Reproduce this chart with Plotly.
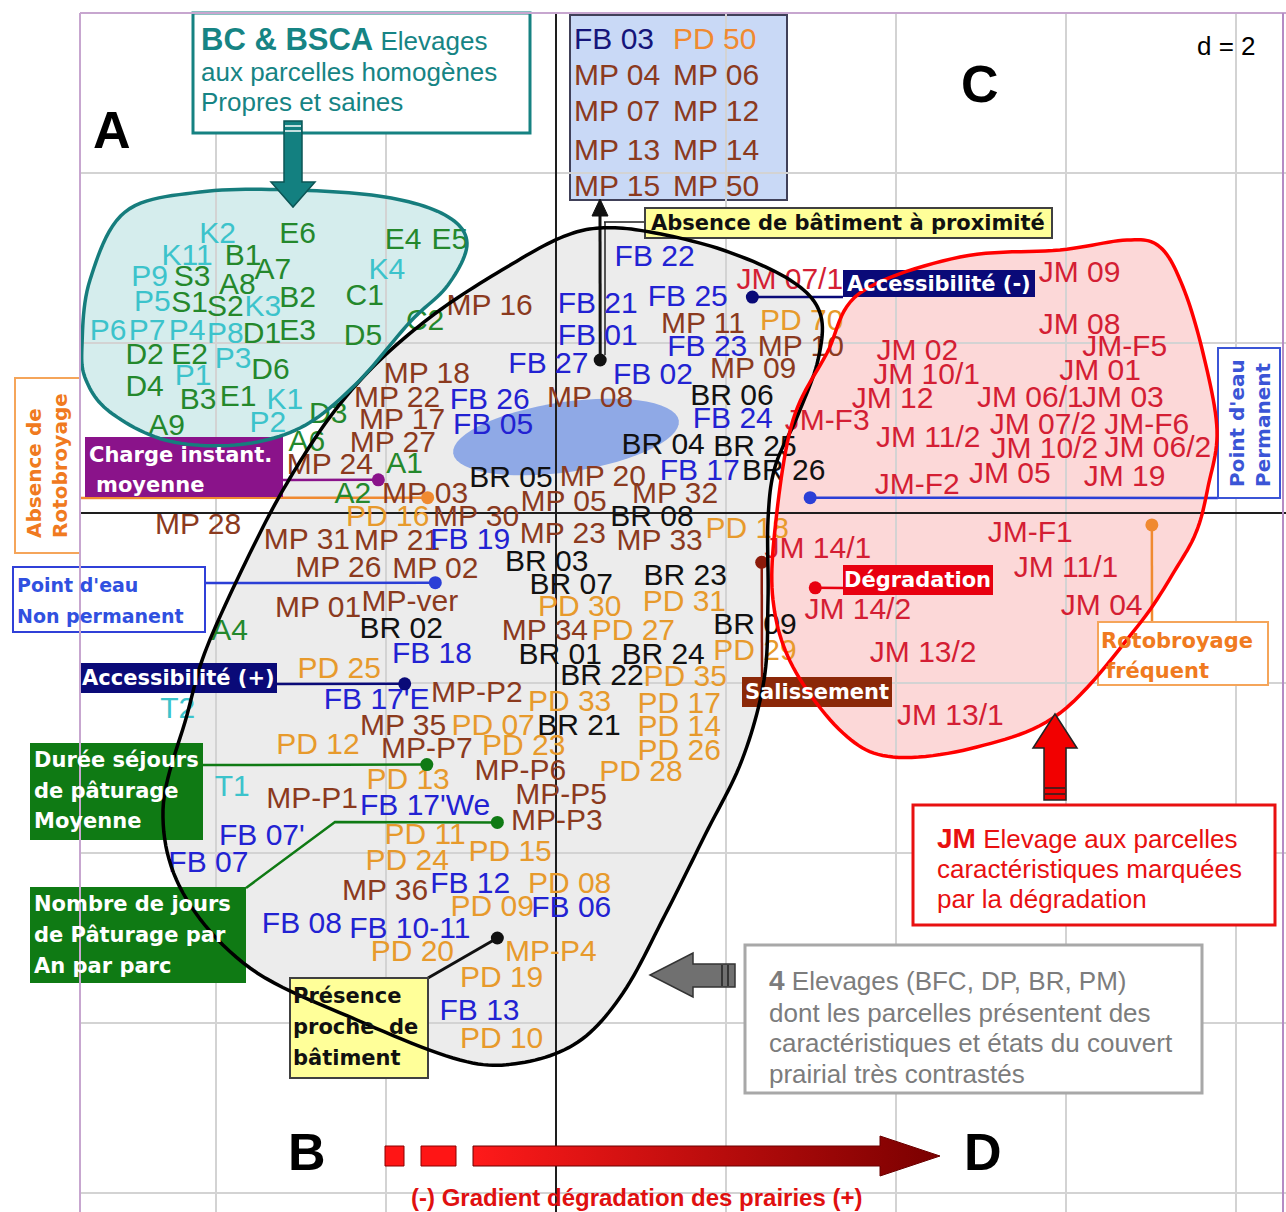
import math
import plotly.graph_objects as go

# ------------------------------------------------------------------ data
# positions on the factorial plane (axis 1 horizontal, axis 2 vertical), grid d = 2

bc_cyan_labels = ["K2", "K11", "P9", "P5", "K3", "K4", "P6", "P7", "P4", "P8",
                  "P3", "P1", "K1", "P2", "T2", "T1"]
bc_cyan_x = [-3.98, -4.34, -4.78, -4.75, -3.45, -1.99, -5.27, -4.81, -4.34, -3.89,
             -3.80, -4.27, -3.19, -3.39, -4.45, -3.81]
bc_cyan_y = [3.27, 3.01, 2.76, 2.47, 2.41, 2.84, 2.12, 2.12, 2.12, 2.09,
             1.80, 1.60, 1.31, 1.04, -2.32, -3.24]

bc_green_labels = ["E6", "E4", "E5", "B1", "A7", "S3", "A8", "B2", "C1", "S1",
                   "S2", "C2", "D1", "E3", "D5", "D2", "E2", "D6", "D4", "B3",
                   "E1", "A9", "D3", "A6", "A1", "A2", "A4"]
bc_green_x = [-3.04, -1.80, -1.25, -3.68, -3.33, -4.28, -3.75, -3.04, -2.25, -4.31,
              -3.89, -1.54, -3.46, -3.04, -2.27, -4.84, -4.31, -3.36, -4.84, -4.21,
              -3.74, -4.58, -2.68, -2.93, -1.78, -2.39, -3.84]
bc_green_y = [3.27, 3.19, 3.19, 3.01, 2.84, 2.76, 2.66, 2.51, 2.54, 2.45,
              2.41, 2.24, 2.09, 2.12, 2.06, 1.84, 1.84, 1.66, 1.47, 1.31,
              1.35, 1.01, 1.15, 0.82, 0.56, 0.21, -1.41]

mp_labels = ["MP 16", "MP 18", "MP 22", "MP 17", "MP 27", "MP 24", "MP 03", "MP 30",
             "MP 28", "MP 31", "MP 21", "MP 26", "MP 02", "MP 01", "MP-ver", "MP-P2",
             "MP 35", "MP-P7", "MP-P1", "MP 36", "MP 11", "MP 10", "MP 09", "MP 08",
             "MP 20", "MP 32", "MP 05", "MP 23", "MP 33", "MP 34", "MP-P6", "MP-P5",
             "MP-P3"]
mp_x = [-0.78, -1.52, -1.87, -1.81, -1.92, -2.66, -1.54, -0.94,
        -4.21, -2.93, -1.87, -2.56, -1.42, -2.80, -1.72, -0.93,
        -1.80, -1.52, -2.87, -2.01, 1.73, 2.88, 2.32, 0.40,
        0.55, 1.40, 0.09, 0.08, 1.22, -0.13, -0.42, 0.06,
        0.01]
mp_y = [2.42, 1.62, 1.34, 1.08, 0.81, 0.55, 0.21, -0.07,
        -0.16, -0.34, -0.35, -0.67, -0.68, -1.14, -1.07, -2.14,
        -2.52, -2.79, -3.38, -4.46, 2.21, 1.93, 1.68, 1.33,
        0.41, 0.21, 0.11, -0.26, -0.35, -1.40, -3.05, -3.34,
        -3.64]

fb_labels = ["FB 22", "FB 21", "FB 25", "FB 01", "FB 23", "FB 27", "FB 02", "FB 26",
             "FB 05", "FB 24", "FB 17", "FB 19", "FB 18", "FB 17'E", "FB 17'We", "FB 07'",
             "FB 07", "FB 12", "FB 06", "FB 08", "FB 10-11", "FB 13"]
fb_x = [1.16, 0.49, 1.55, 0.49, 1.78, -0.09, 1.14, -0.78,
        -0.74, 2.08, 1.69, -1.01, -1.46, -2.11, -1.54, -3.46,
        -4.09, -1.01, 0.18, -2.99, -1.72, -0.90]
fb_y = [3.00, 2.44, 2.52, 2.07, 1.94, 1.74, 1.61, 1.31,
        1.02, 1.09, 0.48, -0.33, -1.68, -2.22, -3.46, -3.82,
        -4.14, -4.38, -4.67, -4.85, -4.91, -5.88]

br_labels = ["BR 06", "BR 04", "BR 25", "BR 26", "BR 05", "BR 08", "BR 03", "BR 07",
             "BR 23", "BR 02", "BR 09", "BR 01", "BR 24", "BR 22", "BR 21"]
br_x = [2.07, 1.26, 2.34, 2.68, -0.53, 1.13, -0.11, 0.18,
        1.52, -1.82, 2.34, 0.05, 1.26, 0.54, 0.27]
br_y = [1.36, 0.78, 0.76, 0.48, 0.40, -0.06, -0.59, -0.87,
        -0.76, -1.38, -1.34, -1.69, -1.69, -1.94, -2.52]

pd_labels = ["PD 70", "PD 16", "PD 18", "PD 30", "PD 31", "PD 27", "PD 29", "PD 25",
             "PD 35", "PD 33", "PD 17", "PD 07", "PD 14", "PD 12", "PD 23", "PD 26",
             "PD 28", "PD 13", "PD 11", "PD 15", "PD 24", "PD 08", "PD 09", "PD 20",
             "MP-P4", "PD 19", "PD 10"]
pd_x = [2.89, -1.98, 2.25, 0.28, 1.51, 0.91, 2.34, -2.55,
        1.52, 0.16, 1.45, -0.74, 1.45, -2.80, -0.38, 1.45,
        1.00, -1.74, -1.54, -0.54, -1.75, 0.16, -0.75, -1.69,
        -0.06, -0.64, -0.64]
pd_y = [2.24, -0.06, -0.20, -1.12, -1.06, -1.41, -1.64, -1.85,
        -1.95, -2.24, -2.26, -2.52, -2.54, -2.75, -2.76, -2.82,
        -3.06, -3.16, -3.81, -4.00, -4.11, -4.38, -4.65, -5.18,
        -5.18, -5.49, -6.20]

jm_labels = ["JM 07/1", "JM 09", "JM 08", "JM-F5", "JM 02", "JM 10/1", "JM 01", "JM 12",
             "JM 06/1", "JM 03", "JM-F3", "JM 07/2", "JM-F6", "JM 11/2", "JM 10/2", "JM 06/2",
             "JM 05", "JM 19", "JM-F2", "JM-F1", "JM 14/1", "JM 11/1", "JM 04", "JM 14/2",
             "JM 13/2", "JM 13/1"]
jm_x = [2.75, 6.16, 6.16, 6.69, 4.25, 4.36, 6.40, 3.96,
        5.58, 6.67, 3.19, 5.73, 6.95, 4.38, 5.75, 7.08,
        5.34, 6.69, 4.25, 5.58, 3.08, 6.00, 6.42, 3.55,
        4.32, 4.64]
jm_y = [2.72, 2.81, 2.20, 1.94, 1.89, 1.61, 1.65, 1.32,
        1.33, 1.33, 1.07, 1.02, 1.02, 0.86, 0.73, 0.75,
        0.44, 0.41, 0.31, -0.25, -0.44, -0.66, -1.11, -1.16,
        -1.67, -2.40]

# parcels projected outside the frame, listed in the box at the top
top_box_rows = [["FB 03", "PD 50"], ["MP 04", "MP 06"], ["MP 07", "MP 12"],
                ["MP 13", "MP 14"], ["MP 15", "MP 50"]]

# supplementary variables (points linked to their labels)
var_names = ["Absence de bâtiment à proximité", "Accessibilité (-)", "Point d'eau Permanent",
             "Rotobroyage fréquent", "Dégradation", "Salissement", "Charge instant. moyenne",
             "Absence de Rotobroyage", "Point d'eau Non permanent", "Accessibilité (+)",
             "Durée séjours de pâturage Moyenne", "Nombre de jours de Pâturage par An par parc",
             "Présence proche de bâtiment"]
var_x = [0.52, 2.31, 2.99, 7.01, 3.05, 2.42, -2.09, -1.51, -1.42, -1.78, -1.52, -0.69, -0.69]
var_y = [1.80, 2.54, 0.18, -0.14, -0.88, -0.58, 0.39, 0.18, -0.82, -2.01, -2.96, -3.64, -5.00]

# ------------------------------------------------------------------ layout helpers
W, H = 1286, 1212
LEFT, TOP = 80, 13
OX, OY, UNIT = 556, 513, 85.0      # origin and size of one unit, in pixels

ARIAL = "Liberation Sans, Arial, sans-serif"
DEJAVU = "DejaVu Sans, Verdana, sans-serif"


def ux(p):
    return (p - OX) / UNIT


def uy(p):
    return (OY - p) / UNIT


def fx(p):
    return (p - LEFT) / (W - LEFT)


def fy(p):
    return (H - p) / (H - TOP)


def poly_path(pts):
    return "M " + " L ".join(f"{ux(x):.4f},{uy(y):.4f}" for x, y in pts) + " Z"


def smooth_path(pts, n=12):
    # closed catmull-rom curve through the hand-traced outline points
    out = []
    m = len(pts)
    for i in range(m):
        p0, p1, p2, p3 = pts[i - 1], pts[i], pts[(i + 1) % m], pts[(i + 2) % m]
        for k in range(n):
            t = k / n
            t2, t3 = t * t, t * t * t
            xy = []
            for d in (0, 1):
                xy.append(0.5 * (2 * p1[d] + (-p0[d] + p2[d]) * t
                                 + (2 * p0[d] - 5 * p1[d] + 4 * p2[d] - p3[d]) * t2
                                 + (-p0[d] + 3 * p1[d] - 3 * p2[d] + p3[d]) * t3))
            out.append(xy)
    return poly_path(out)


shapes = []
annotations = []


def box(x0, y0, x1, y1, fill, line=None, lw=0, layer="above"):
    shapes.append(dict(type="rect", xref="paper", yref="paper",
                       x0=fx(x0), x1=fx(x1), y0=fy(y1), y1=fy(y0),
                       fillcolor=fill, line=dict(color=line or fill, width=lw), layer=layer))


def note(x, y, text, size, color, family=ARIAL, xanchor="left", angle=0, align="left"):
    annotations.append(dict(xref="paper", yref="paper", x=fx(x), y=fy(y), text=text,
                            showarrow=False, xanchor=xanchor, yanchor="middle",
                            textangle=angle, align=align, borderpad=0,
                            font=dict(family=family, size=size, color=color)))


# ------------------------------------------------------------------ groups outlines
teal_outline = [(82, 345), (90, 280), (125, 212), (200, 192), (293, 190), (385, 197),
                (445, 215), (467, 243), (448, 285), (410, 322), (355, 385), (300, 428),
                (235, 445), (165, 440), (110, 412), (86, 380)]
black_outline = [(600, 228), (650, 232), (723, 250), (790, 280), (820, 313), (818, 360),
                 (797, 417), (775, 467), (768, 520), (768, 600), (764, 680), (742, 760),
                 (705, 835), (665, 915), (623, 993), (578, 1042), (520, 1063), (460, 1060),
                 (357, 1020), (250, 968), (183, 893), (163, 810), (187, 715), (207, 647),
                 (253, 547), (290, 478), (333, 413), (380, 360), (440, 310), (507, 267),
                 (560, 238)]
red_outline = [(860, 293), (960, 257), (1060, 250), (1127, 240), (1160, 247), (1183, 287),
               (1203, 353), (1217, 430), (1208, 487), (1197, 530), (1177, 567), (1137, 627),
               (1060, 713), (977, 747), (893, 757), (843, 733), (793, 667), (773, 600),
               (776, 520), (793, 420), (827, 353)]

for pts, fill in [(black_outline, "#ECECEC"), (teal_outline, "#D5EDED"), (red_outline, "#FCD8D8")]:
    shapes.append(dict(type="path", xref="x", yref="y", path=smooth_path(pts),
                       fillcolor=fill, line=dict(width=0), layer="below"))

# blue spot in the middle
ell = []
th = math.radians(-8.3)
for k in range(60):
    t = 2 * math.pi * k / 60
    ell.append((566 + 114 * math.cos(t) * math.cos(th) - 35 * math.sin(t) * math.sin(th),
                437 + 114 * math.cos(t) * math.sin(th) + 35 * math.sin(t) * math.cos(th)))
shapes.append(dict(type="path", xref="x", yref="y", path=poly_path(ell),
                   fillcolor="#8FA9E6", line=dict(width=0), layer="below"))

# box of out-of-frame parcels (drawn under the grid)
box(570, 15, 787, 200, "#C9D9F6", "#404058", 2, layer="below")

# ------------------------------------------------------------------ leader lines
var_colors = ["#111111", "#0A0A78", "#2B3FD6", "#F08A30", "#E80010", "#8B1A0A", "#8A138A",
              "#F08A30", "#2B3FD6", "#0A0A78", "#0F7A14", "#0F7A14", "#111111"]
var_leaders = [[(600, 212)], [(843, 297)], [(1218, 498)], [(1152, 622)], [(843, 588)],
               [(762, 677)], [(283, 480)], [(80, 498)], [(205, 583)], [(277, 684)],
               [(203, 765)], [(335, 822), (246, 888)], [(428, 978)]]
for vx, vy, col, way in zip(var_x, var_y, var_colors, var_leaders):
    p = f"M {vx},{vy} " + " ".join(f"L {ux(a):.4f},{uy(b):.4f}" for a, b in way)
    shapes.append(dict(type="path", xref="x", yref="y", path=p,
                       line=dict(color=col, width=3 if col == "#111111" else 2.5),
                       layer="between"))
shapes.append(dict(type="path", xref="x", yref="y", path=poly_path([(592, 216), (608, 216), (600, 199)]),
                   fillcolor="#111111", line=dict(color="#111111", width=1), layer="between"))
shapes.append(dict(type="path", xref="x", yref="y",
                   path=f"M {ux(604)},{uy(222)} L {ux(646)},{uy(222)} M {ux(605)},{uy(222)} L {ux(605)},{uy(355)}",
                   line=dict(color="#222222", width=1.5), layer="between"))

# ------------------------------------------------------------------ label boxes
box(193, 13, 530, 133, "white", "#168282", 3)
box(645, 208, 1052, 238, "#FFFF99", "#404040", 2)
box(843, 270, 1035, 297, "#0A0A78")
box(1218, 348, 1280, 498, "white", "#3B55D6", 2)
box(1098, 622, 1268, 685, "white", "#F5A55A", 2)
box(843, 565, 993, 595, "#E80010")
box(742, 677, 892, 707, "#8B2808")
box(85, 437, 283, 497, "#8A138A")
box(15, 378, 80, 553, "white", "#F5A55A", 2)
box(13, 567, 205, 632, "white", "#3040D8", 2)
box(80, 663, 277, 693, "#0A0A78")
box(30, 743, 203, 840, "#0F7A14")
box(30, 887, 246, 983, "#0F7A14")
box(290, 978, 428, 1078, "#FFFF99", "#404040", 2)
box(913, 805, 1275, 925, "white", "#E81010", 3)
box(745, 945, 1202, 1093, "white", "#A8A8A8", 3)

# outlines drawn over texts and boxes
for pts, col in [(black_outline, "#000000"), (teal_outline, "#167D7D"), (red_outline, "#FF0000")]:
    shapes.append(dict(type="path", xref="x", yref="y", path=smooth_path(pts),
                       fillcolor="rgba(0,0,0,0)", line=dict(color=col, width=3.5), layer="above"))

# arrows
shapes.append(dict(type="path", xref="x", yref="y",
                   path=poly_path([(284, 121), (302, 121), (302, 182), (315, 182), (293, 207),
                                   (271, 182), (284, 182)]),
                   fillcolor="#138080", line=dict(color="#0B5555", width=1.5), layer="above"))
for yy in (126, 131):
    shapes.append(dict(type="line", xref="x", yref="y", x0=ux(285), x1=ux(301), y0=uy(yy), y1=uy(yy),
                       line=dict(color="white", width=1.5), layer="above"))
shapes.append(dict(type="path", xref="x", yref="y",
                   path=poly_path([(1044, 800), (1066, 800), (1066, 748), (1077, 748), (1055, 714),
                                   (1033, 748), (1044, 748)]),
                   fillcolor="#F20000", line=dict(color="#222222", width=1.5), layer="above"))
for yy in (788, 794):
    shapes.append(dict(type="line", xref="x", yref="y", x0=ux(1045), x1=ux(1065), y0=uy(yy), y1=uy(yy),
                       line=dict(color="#222222", width=1.5), layer="above"))
shapes.append(dict(type="path", xref="x", yref="y",
                   path=poly_path([(735, 964), (735, 987), (693, 987), (693, 997), (650, 975),
                                   (693, 953), (693, 964)]),
                   fillcolor="#707070", line=dict(color="#333333", width=1.5), layer="above"))
for xx in (722, 728):
    shapes.append(dict(type="line", xref="x", yref="y", x0=ux(xx), x1=ux(xx), y0=uy(965), y1=uy(986),
                       line=dict(color="#222222", width=1.5), layer="above"))
for a, b in [(385, 404), (421, 456)]:
    shapes.append(dict(type="path", xref="x", yref="y",
                       path=poly_path([(a, 1146), (b, 1146), (b, 1166), (a, 1166)]),
                       fillcolor="#FF1515", line=dict(color="#8A0000", width=1), layer="above"))

# frame
shapes.append(dict(type="line", xref="paper", yref="paper", x0=0, x1=0, y0=0, y1=1,
                   line=dict(color="#C7A6CF", width=2), layer="above"))
shapes.append(dict(type="line", xref="paper", yref="paper", x0=0, x1=1, y0=1, y1=1,
                   line=dict(color="#C7A6CF", width=2), layer="above"))
shapes.append(dict(type="line", xref="paper", yref="paper", x0=fx(1283), x1=fx(1283), y0=0, y1=1,
                   line=dict(color="#B58BC4", width=2), layer="above"))

# ------------------------------------------------------------------ texts in boxes
TEAL = "#168484"
note(200, 40, "<b><span style='font-size:31px'>BC &amp; BSCA</span></b> Elevages", 26, TEAL)
note(200, 72, "aux parcelles homogènes", 26, TEAL)
note(200, 102, "Propres et saines", 26, TEAL)

row_y = [38, 74, 111, 149, 185]
for (a, b), yy in zip(top_box_rows, row_y):
    ca = "#15157A" if a.startswith("FB") else "#8B3A1E"
    cb = "#F08A30" if b.startswith("PD") else "#8B3A1E"
    note(573, yy, a, 30, ca)
    note(672, yy, b, 30, cb)

note(848, 223, "<b>Absence de bâtiment à proximité</b>", 21, "#111111", DEJAVU, "center")
note(939, 284, "<b>Accessibilité (-)</b>", 21, "white", DEJAVU, "center")
note(1250, 423, "<b>Point d'eau<br>Permanent</b>", 20, "#3B55D6", DEJAVU, "center", -90)
note(1100, 641, "<b>Rotobroyage</b>", 21, "#F07A20", DEJAVU)
note(1105, 671, "<b>fréquent</b>", 21, "#F07A20", DEJAVU)
note(918, 580, "<b>Dégradation</b>", 21, "white", DEJAVU, "center")
note(817, 692, "<b>Salissement</b>", 21, "white", DEJAVU, "center")
note(88, 455, "<b>Charge instant.</b>", 21, "white", DEJAVU)
note(95, 485, "<b>moyenne</b>", 21, "white", DEJAVU)
note(47, 466, "<b>Absence de<br>Rotobroyage</b>", 20, "#F07A20", DEJAVU, "center", -90)
note(16, 585, "<b>Point d'eau</b>", 19, "#3050E0", DEJAVU)
note(16, 616, "<b>Non permanent</b>", 19, "#3050E0", DEJAVU)
note(178, 678, "<b>Accessibilité (+)</b>", 21, "white", DEJAVU, "center")
for yy, t in zip([760, 791, 821], ["Durée séjours", "de pâturage", "Moyenne"]):
    note(33, yy, f"<b>{t}</b>", 21, "white", DEJAVU)
for yy, t in zip([904, 935, 966], ["Nombre de jours", "de Pâturage par", "An par parc"]):
    note(33, yy, f"<b>{t}</b>", 21, "white", DEJAVU)
for yy, t in zip([996, 1027, 1058], ["Présence", "proche  de", "bâtiment"]):
    note(292, yy, f"<b>{t}</b>", 21, "#111111", DEJAVU)

RED = "#E81010"
note(936, 838, "<b><span style='font-size:28px'>JM</span></b> Elevage aux parcelles", 26, RED)
note(936, 869, "caractéristiques marquées", 26, RED)
note(936, 899, "par la dégradation", 26, RED)

GREY = "#7C7C7C"
note(768, 980, "<b><span style='font-size:28px'>4</span></b> Elevages (BFC, DP, BR, PM)", 26, GREY)
note(768, 1013, "dont les parcelles présentent des", 26, GREY)
note(768, 1043, "caractéristiques et états du couvert", 26, GREY)
note(768, 1074, "prairial très contrastés", 26, GREY)

note(112, 130, "<b>A</b>", 52, "black", ARIAL, "center")
note(980, 84, "<b>C</b>", 52, "black", ARIAL, "center")
note(307, 1152, "<b>B</b>", 52, "black", ARIAL, "center")
note(983, 1152, "<b>D</b>", 52, "black", ARIAL, "center")
note(1226, 46, "d = 2", 26, "black", ARIAL, "center")
note(636, 1197, "<b>(-) Gradient dégradation des prairies (+)</b>", 24, "#E01010", ARIAL, "center")

# ------------------------------------------------------------------ figure
fig = go.Figure()

# gradient arrow B -> D
arrow_pts = [(473, 1146), (880, 1146), (880, 1136), (940, 1156), (880, 1176), (880, 1166), (473, 1166), (473, 1146)]
fig.add_trace(go.Scatter(x=[ux(a) for a, b in arrow_pts], y=[uy(b) for a, b in arrow_pts],
                         mode="lines", fill="toself", line=dict(color="#6A0000", width=1),
                         fillgradient=dict(type="horizontal",
                                           colorscale=[[0, "#FF1A1A"], [1, "#7A0000"]]),
                         hoverinfo="skip", showlegend=False))

groups = [
    (bc_green_labels, bc_green_x, bc_green_y, "#24882C"),
    (bc_cyan_labels, bc_cyan_x, bc_cyan_y, "#3CC3CB"),
    (pd_labels, pd_x, pd_y, "#E79A2C"),
    (mp_labels, mp_x, mp_y, "#8B3A1E"),
    (fb_labels, fb_x, fb_y, "#2222D2"),
    (br_labels, br_x, br_y, "#111111"),
    (jm_labels, jm_x, jm_y, "#D41E34"),
]
for labels, xs, ys, col in groups:
    fig.add_trace(go.Scatter(x=xs, y=ys, text=labels, mode="text", textposition="middle center",
                             textfont=dict(family=ARIAL, size=30, color=col),
                             cliponaxis=False, hoverinfo="skip", showlegend=False))

fig.add_trace(go.Scatter(x=var_x, y=var_y, mode="markers", text=var_names,
                         marker=dict(size=13, color=var_colors),
                         hoverinfo="text", showlegend=False))

axis_style = dict(showgrid=True, gridcolor="#D3D3D3", gridwidth=2, dtick=2, tick0=0,
                  zeroline=True, zerolinecolor="#1E1E1E", zerolinewidth=2,
                  showticklabels=False, ticks="", showline=False, fixedrange=True)

fig.update_layout(
    width=W, height=H,
    margin=dict(l=LEFT, r=0, t=TOP, b=0, autoexpand=False),
    paper_bgcolor="white", plot_bgcolor="white",
    showlegend=False,
    xaxis=dict(range=[ux(LEFT), ux(W)], **axis_style),
    yaxis=dict(range=[uy(H), uy(TOP)], **axis_style),
    shapes=shapes,
    annotations=annotations,
)

fig.write_html("out.html", config={"displayModeBar": False},
               post_script="document.body.style.margin='0';document.body.style.overflow='hidden';")
